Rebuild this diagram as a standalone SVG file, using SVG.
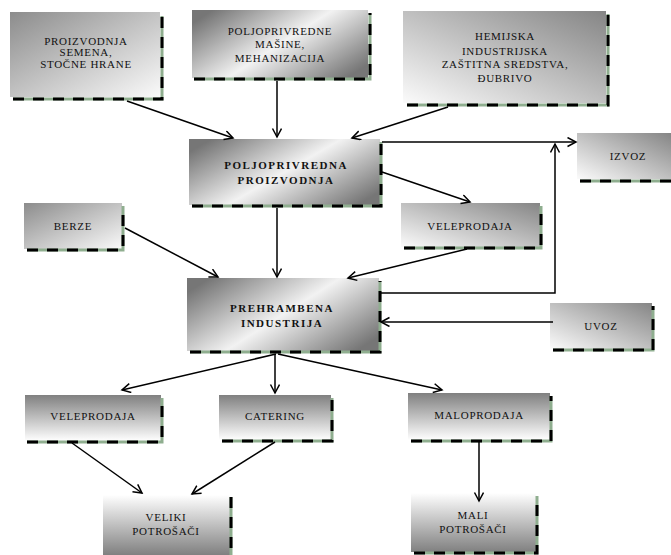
<svg xmlns="http://www.w3.org/2000/svg" width="671" height="555" viewBox="0 0 671 555">
<style>
text{font-family:'Liberation Serif','DejaVu Serif',serif;font-size:11px;fill:#111;text-anchor:middle;letter-spacing:0.7px}
.tb{font-weight:bold;letter-spacing:1.5px}
.sg{fill:none;stroke:#8fae8f;stroke-width:3}
.sd{fill:none;stroke:#000;stroke-width:3;stroke-dasharray:11 9}
.c{fill:none;stroke:#000;stroke-width:1.5;marker-end:url(#ah)}
</style>
<defs>
<marker id="ah" markerUnits="userSpaceOnUse" markerWidth="12" markerHeight="12" refX="9" refY="5" orient="auto">
<path d="M0.5,0.5 L9,5 L0.5,9.5" fill="none" stroke="#000" stroke-width="1.5"/>
</marker>
<linearGradient id="gTL" x1="0" y1="0" x2="1" y2="1"><stop offset="0" stop-color="#8c8c8c"/><stop offset="1" stop-color="#fafafa"/></linearGradient>
<linearGradient id="gTR" x1="1" y1="0" x2="0" y2="1"><stop offset="0" stop-color="#858585"/><stop offset="1" stop-color="#fbfbfb"/></linearGradient>
<linearGradient id="gMid" x1="0" y1="0.2" x2="1" y2="0.8"><stop offset="0" stop-color="#767676"/><stop offset="0.5" stop-color="#f2f2f2"/><stop offset="1" stop-color="#767676"/></linearGradient>
<linearGradient id="gV" x1="0" y1="0" x2="0" y2="1"><stop offset="0" stop-color="#808080"/><stop offset="1" stop-color="#ffffff"/></linearGradient>
<linearGradient id="gVr" x1="0" y1="0" x2="0" y2="1"><stop offset="0" stop-color="#ffffff"/><stop offset="1" stop-color="#808080"/></linearGradient>
</defs>
<rect width="671" height="555" fill="#fff"/>
<g id="n1">
<rect x="10" y="12" width="150" height="85" fill="url(#gTL)"/>
<polyline class="sg" points="13,99 162,99 162,16"/><polyline class="sd" points="13,99 162,99 162,16"/>
<text x="86" y="45">PROIZVODNJA</text><text x="86" y="56">SEMENA,</text><text x="86" y="68">STOČNE HRANE</text>
</g>
<g id="n2">
<rect x="192" y="10" width="176" height="68" fill="url(#gMid)"/>
<polyline class="sg" points="194,79 370,79 370,13"/><polyline class="sd" points="194,79 370,79 370,13"/>
<text x="280" y="35">POLJOPRIVREDNE</text><text x="280" y="48">MAŠINE,</text><text x="280" y="62">MEHANIZACIJA</text>
</g>
<g id="n3">
<rect x="403" y="11" width="203" height="92" fill="url(#gTR)"/>
<polyline class="sg" points="407,105 608,105 608,14"/><polyline class="sd" points="407,105 608,105 608,14"/>
<text x="505" y="40">HEMIJSKA</text><text x="505" y="55">INDUSTRIJSKA</text><text x="505" y="68">ZAŠTITNA SREDSTVA,</text><text x="505" y="82">ĐUBRIVO</text>
</g>
<g id="n4">
<rect x="189" y="139" width="191" height="66" fill="url(#gMid)"/>
<polyline class="sg" points="192,206 381,206 381,142"/><polyline class="sd" points="192,206 381,206 381,142"/>
<text class="tb" x="286" y="169">POLJOPRIVREDNA</text><text class="tb" x="286" y="184">PROIZVODNJA</text>
</g>
<g id="n5">
<rect x="577" y="133" width="94" height="46" fill="url(#gTR)"/>
<polyline class="sg" points="580,181 671,181"/><polyline class="sd" points="580,181 671,181"/>
<text x="628" y="160">IZVOZ</text>
</g>
<g id="n6">
<rect x="401" y="203" width="139" height="44" fill="url(#gTR)"/>
<polyline class="sg" points="404,248 541,248 541,206"/><polyline class="sd" points="404,248 541,248 541,206"/>
<text x="470" y="230">VELEPRODAJA</text>
</g>
<g id="n7">
<rect x="24" y="203" width="98" height="46" fill="url(#gTL)"/>
<polyline class="sg" points="27,250 123,250 123,206"/><polyline class="sd" points="27,250 123,250 123,206"/>
<text x="73" y="230">BERZE</text>
</g>
<g id="n8">
<rect x="187" y="278" width="192" height="73" fill="url(#gMid)"/>
<polyline class="sg" points="190,352 380,352 380,281"/><polyline class="sd" points="190,352 380,352 380,281"/>
<text class="tb" x="282" y="312">PREHRAMBENA</text><text class="tb" x="282" y="327">INDUSTRIJA</text>
</g>
<g id="n9">
<rect x="550" y="303" width="102" height="46" fill="url(#gTR)"/>
<polyline class="sg" points="553,350 653,350 653,306"/><polyline class="sd" points="553,350 653,350 653,306"/>
<text x="601" y="330">UVOZ</text>
</g>
<g id="n10">
<rect x="25" y="395" width="136" height="46" fill="url(#gV)"/>
<polyline class="sg" points="27,442 162,442 162,398"/><polyline class="sd" points="27,442 162,442 162,398"/>
<text x="93" y="420">VELEPRODAJA</text>
</g>
<g id="n11">
<rect x="219" y="395" width="112" height="45" fill="url(#gV)"/>
<polyline class="sg" points="222,441 332,441 332,398"/><polyline class="sd" points="222,441 332,441 332,398"/>
<text x="275" y="420">CATERING</text>
</g>
<g id="n12">
<rect x="408" y="393" width="142" height="47" fill="url(#gV)"/>
<polyline class="sg" points="411,441 551,441 551,396"/><polyline class="sd" points="411,441 551,441 551,396"/>
<text x="479" y="419">MALOPRODAJA</text>
</g>
<g id="n13">
<rect x="103" y="495" width="127" height="60" fill="url(#gVr)"/>
<polyline class="sg" points="231,497 231,555"/><polyline class="sd" points="231,497 231,555"/>
<text x="166" y="521">VELIKI</text><text x="166" y="535">POTROŠAČI</text>
</g>
<g id="n14">
<rect x="411" y="493" width="125" height="59" fill="url(#gVr)"/>
<polyline class="sg" points="414,553 537,553 537,496"/><polyline class="sd" points="414,553 537,553 537,496"/>
<text x="473" y="519">MALI</text><text x="473" y="533">POTROŠAČI</text>
</g>
<g id="connectors">
<line class="c" x1="127" y1="101" x2="233" y2="138"/>
<line class="c" x1="277" y1="81" x2="277" y2="137"/>
<line class="c" x1="448" y1="107" x2="352" y2="138"/>
<line class="c" x1="382" y1="142" x2="576" y2="142"/>
<line class="c" x1="382" y1="172" x2="470" y2="202"/>
<line class="c" x1="277" y1="208" x2="277" y2="277"/>
<line class="c" x1="125" y1="228" x2="218" y2="277"/>
<line class="c" x1="467" y1="249" x2="348" y2="278"/>
<polyline class="c" points="381,293 555,293 555,144"/>
<line class="c" x1="553" y1="322" x2="381" y2="322"/>
<line class="c" x1="276" y1="354" x2="122" y2="390"/>
<line class="c" x1="275" y1="354" x2="275" y2="393"/>
<line class="c" x1="278" y1="354" x2="442" y2="390"/>
<line class="c" x1="72" y1="443" x2="142" y2="493"/>
<line class="c" x1="275" y1="442" x2="192" y2="494"/>
<line class="c" x1="479" y1="442" x2="479" y2="501"/>
</g>
</svg>
